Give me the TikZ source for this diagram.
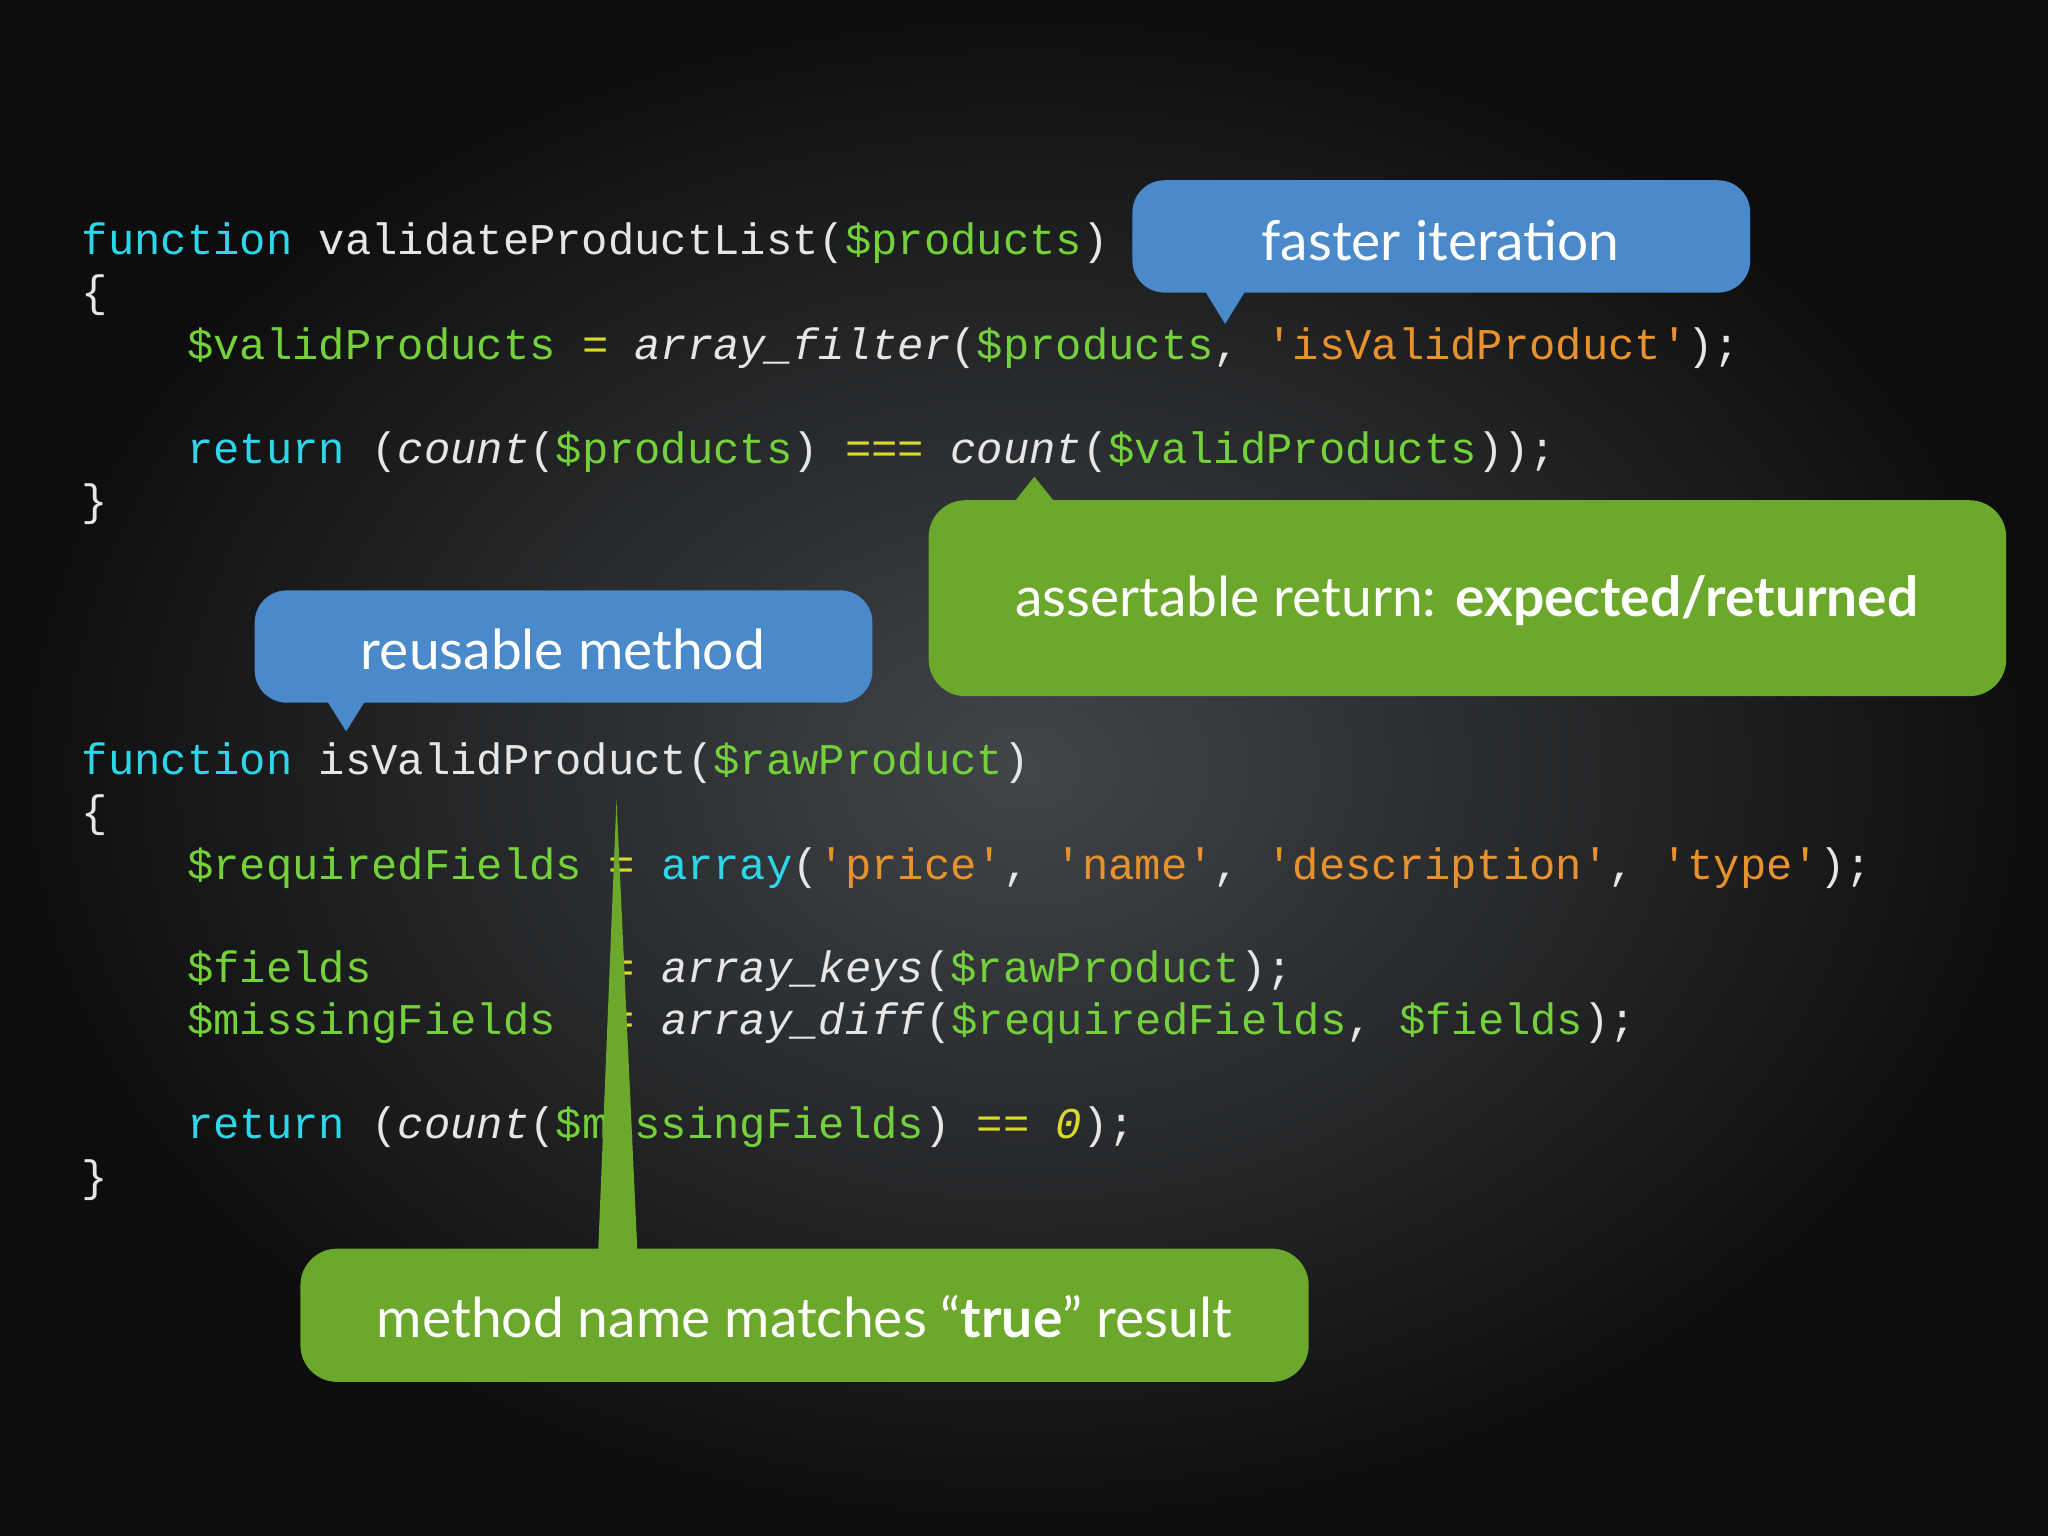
\documentclass[tikz,border=0pt]{standalone}
\usepackage{fontspec}
\setmainfont{Lato}
\setmonofont{Liberation Mono}
\definecolor{bgc}{HTML}{2C3136}
\definecolor{kw}{HTML}{2FD6EA}
\definecolor{vr}{HTML}{74D13C}
\definecolor{st}{HTML}{E8922E}
\definecolor{tx}{HTML}{E6E6E6}
\definecolor{op}{HTML}{D9D92A}
\definecolor{bl}{HTML}{4A8ACB}
\definecolor{gr}{HTML}{6BA82B}
\newcommand{\K}[1]{\textcolor{kw}{#1}}
\newcommand{\V}[1]{\textcolor{vr}{#1}}
\newcommand{\Sq}[1]{\textcolor{st}{#1}}
\newcommand{\Op}[1]{\textcolor{op}{#1}}
\begin{document}
\begin{tikzpicture}[x=0.01cm,y=-0.01cm,
  code/.style={anchor=base west,inner sep=0,text=tx,font=\ttfamily\fontsize{9.55}{11}\selectfont},
  ctext/.style={text=white,inner sep=0,font=\fontsize{12}{14}\selectfont}]
\useasboundingbox (0,0) rectangle (1568,1176);
\shade[inner color=bgc!90!white, outer color=black!95] (0,0) rectangle (1568,1176);
% code block 1
\node[code] (l1) at (62,195) {\K{function} validateProductList(\V{\$products})};
\node[code] (l2) at (62,235) {\{};
\node[code] (l3) at (62,275) {~~~~\V{\$validProducts} \Op{=} \textit{array\_filter}(\V{\$products}, \Sq{'isValidProduct'});};
\node[code] (l4) at (62,355) {~~~~\K{return} (\textit{count}(\V{\$products}) \Op{===} \textit{count}(\V{\$validProducts}));};
\node[code] (l5) at (62,395) {\}};
% code block 2
\node[code] (m1) at (62,593) {\K{function} isValidProduct(\V{\$rawProduct})};
\node[code] (m2) at (62,633) {\{};
\node[code] (m3) at (62,673) {~~~~\V{\$requiredFields} \Op{=} \K{array}(\Sq{'price'}, \Sq{'name'}, \Sq{'description'}, \Sq{'type'});};
\node[code] (m4) at (62,752) {~~~~\V{\$fields}~~~~~~~~~\Op{=} \textit{array\_keys}(\V{\$rawProduct});};
\node[code] (m5) at (62,792) {~~~~\V{\$missingFields}~~\Op{=} \textit{array\_diff}(\V{\$requiredFields}, \V{\$fields});};
\node[code] (m6) at (62,872) {~~~~\K{return} (\textit{count}(\V{\$missingFields}) \Op{==} \textcolor{op}{\textit{0}});};
\node[code] (m7) at (62,912) {\}};
% callouts
\fill[bl,rounded corners=7pt] (867,138) rectangle (1340,224);
\fill[bl] (922,222) -- (938,248) -- (954,222) -- cycle;
\node[ctext] (c1) at (1103,184) {faster iteration};

\fill[gr,rounded corners=8pt] (711,383) rectangle (1536,533);
\fill[gr] (776,385) -- (792,365) -- (808,385) -- cycle;
\node[ctext] (c2) at (1123,460) {assertable return: \textbf{expected/returned}};

\fill[bl,rounded corners=7pt] (195,452) rectangle (668,538);
\fill[bl] (250,536) -- (265,560) -- (280,536) -- cycle;
\node[ctext] (c3) at (431,497) {reusable method};

\fill[gr,rounded corners=8pt] (230,956) rectangle (1002,1058);
\fill[gr] (458,958) -- (472,612) -- (488,958) -- cycle;
\node[ctext] (c4) at (616,1008) {method name matches “\textbf{true}” result};
\end{tikzpicture}
\end{document}
